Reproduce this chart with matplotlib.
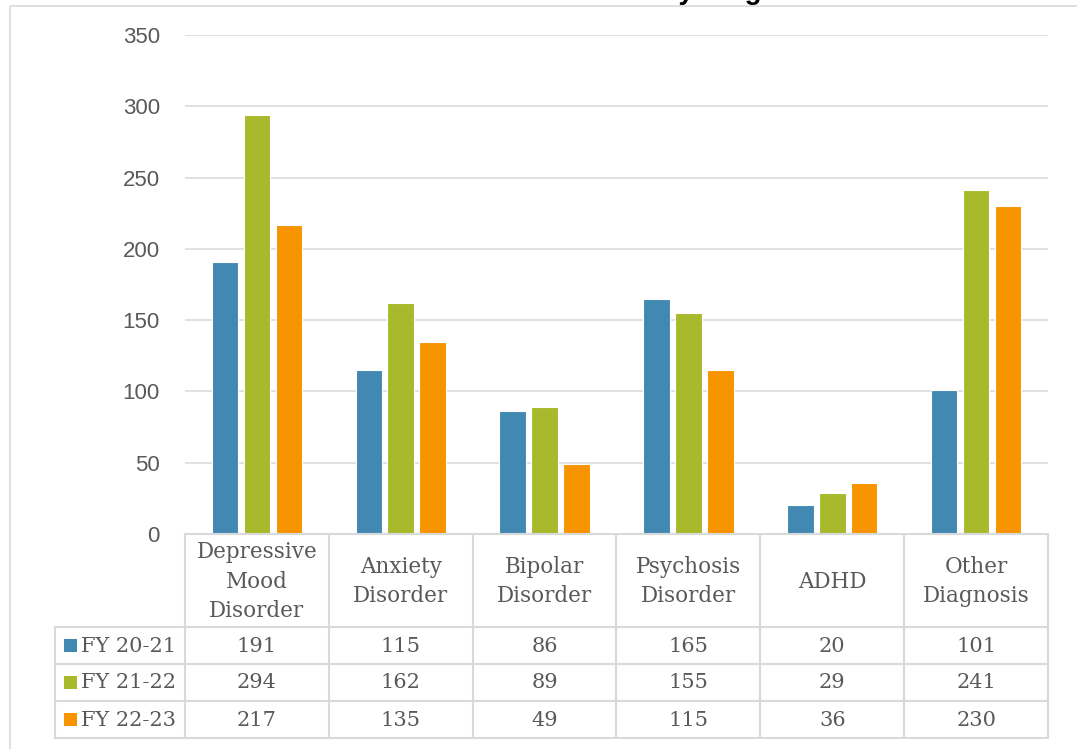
import matplotlib
matplotlib.use("Agg")
import matplotlib.pyplot as plt
from matplotlib.patches import Rectangle
import numpy as np

# ---- data ----
categories = ["Depressive\nMood\nDisorder", "Anxiety\nDisorder", "Bipolar\nDisorder",
              "Psychosis\nDisorder", "ADHD", "Other\nDiagnosis"]
series_names = ["FY 20-21", "FY 21-22", "FY 22-23"]
fy_20_21 = [191, 115, 86, 165, 20, 101]
fy_21_22 = [294, 162, 89, 155, 29, 241]
fy_22_23 = [217, 135, 49, 115, 36, 230]
series_values = [fy_20_21, fy_21_22, fy_22_23]
series_colors = ["#4189B3", "#A8B92B", "#F79400"]
y_ticks = [0, 50, 100, 150, 200, 250, 300, 350]
title_text = "Clients Served by Diagnosis"

# ---- style ----
W, H = 1077, 749
GRID = "#D9D9D9"
TEXT = "#595959"
TABLE_FONT = "DejaVu Serif"
AXIS_FONT = "Liberation Sans"

fig = plt.figure(figsize=(W / 100, H / 100), dpi=100)


def fx(px):
    return px / W


def fy(py):
    return 1 - py / H


# ---- bar chart ----
ax = fig.add_axes([fx(185), fy(534), fx(1048) - fx(185), fy(35) - fy(534)])
x = np.arange(len(categories))
offsets = [-0.222, 0.0, 0.222]
for vals, off, col in zip(series_values, offsets, series_colors):
    ax.bar(x + off, vals, width=0.185, color=col, edgecolor="white",
           linewidth=0.8, zorder=3)

ax.set_xlim(-0.5, len(categories) - 0.5)
ax.set_ylim(0, 350)
ax.set_yticks(y_ticks)
ax.set_yticklabels([str(v) for v in y_ticks], fontsize=16, color=TEXT,
                   family=AXIS_FONT)
ax.tick_params(axis="y", length=0, pad=18)
ax.set_xticks([])
for s in ax.spines.values():
    s.set_visible(False)
ax.yaxis.grid(True, color=GRID, linewidth=1.1, zorder=0)
ax.set_axisbelow(True)
ax.patch.set_alpha(0)

# ---- overlay in pixel coordinates for frame and data table ----
ov = fig.add_axes([0, 0, 1, 1], zorder=5)
ov.set_xlim(0, W)
ov.set_ylim(H, 0)
ov.axis("off")

lw_tab = 1.5
# chart-area frame
ov.plot([10, 10], [5.5, H], color=GRID, lw=1.2, solid_capstyle="butt")
ov.plot([10, W], [5.5, 5.5], color=GRID, lw=1.2, solid_capstyle="butt")

# column edges follow the category slots of the bar axes
col_edges = [ax.transData.transform((i - 0.5, 0))[0] for i in range(len(categories) + 1)]
row_edges = [534, 627, 664, 701, 738]
legend_left = 55

ov.plot([col_edges[0], col_edges[-1]], [row_edges[0]] * 2, color=GRID, lw=lw_tab,
        solid_capstyle="projecting")
for ry in row_edges[1:]:
    ov.plot([legend_left, col_edges[-1]], [ry, ry], color=GRID, lw=lw_tab,
            solid_capstyle="projecting")
ov.plot([legend_left, legend_left], [row_edges[1], row_edges[-1]], color=GRID,
        lw=lw_tab, solid_capstyle="projecting")
for cx in col_edges:
    ov.plot([cx, cx], [row_edges[0], row_edges[-1]], color=GRID, lw=lw_tab,
            solid_capstyle="projecting")

# header labels
for i, cat in enumerate(categories):
    cx = (col_edges[i] + col_edges[i + 1]) / 2
    ov.text(cx, (row_edges[0] + row_edges[1]) / 2 + 1, cat, ha="center", va="center",
            fontsize=15.5, color=TEXT, family=TABLE_FONT, multialignment="center",
            linespacing=1.42)

# value rows with legend keys
for r, (name, vals, col) in enumerate(zip(series_names, series_values, series_colors)):
    cy = (row_edges[r + 1] + row_edges[r + 2]) / 2
    ov.add_patch(Rectangle((64, cy - 6.5), 13, 13, facecolor=col, edgecolor="none"))
    ov.text(81, cy + 0.5, name, ha="left", va="center", fontsize=15, color=TEXT,
            family=TABLE_FONT)
    for i, v in enumerate(vals):
        cx = (col_edges[i] + col_edges[i + 1]) / 2
        ov.text(cx, cy + 0.5, str(v), ha="center", va="center", fontsize=15,
                color=TEXT, family=TABLE_FONT)

# chart title, sitting at the top edge
fig.text(fx(834), fy(-1), title_text, ha="right", va="baseline", fontsize=20,
         fontweight="bold", color="black", family=AXIS_FONT)

fig.savefig("out.png", dpi=100)
